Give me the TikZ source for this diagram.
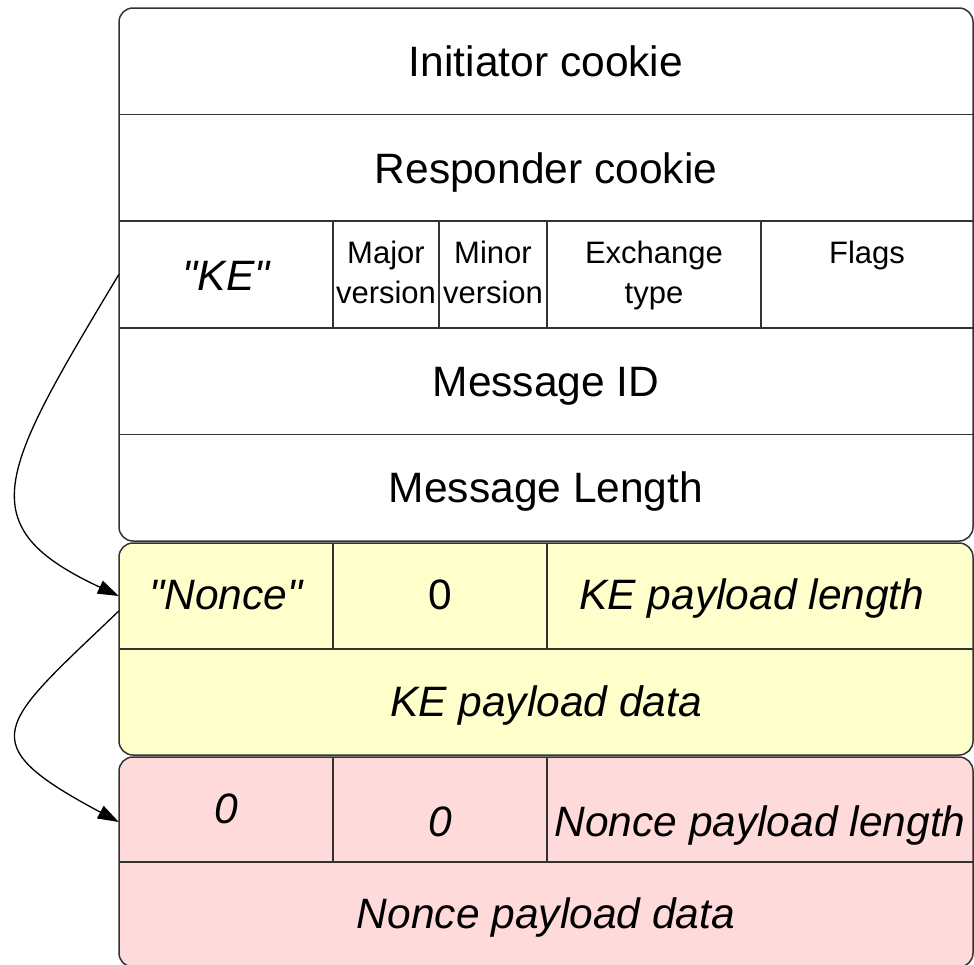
\documentclass[tikz,border=0pt]{standalone}
\usepackage{fontspec}
\newfontfamily\arialike{Liberation Sans}
\usetikzlibrary{arrows.meta,calc}
\definecolor{edge}{HTML}{333333}
\definecolor{kefill}{HTML}{FFFFCC}
\definecolor{noncefill}{HTML}{FFDADA}
\begin{document}
\begin{tikzpicture}[x=1pt,y=-1pt,
  block/.style={draw=edge, line width=1.5pt, rounded corners=14pt},
  gridline/.style={draw=edge, line width=1.5pt},
  cell/.style={inner sep=0pt, draw=none},
  big/.style={font=\arialike\fontsize{42.5}{51}\selectfont, anchor=base, inner sep=0pt},
  bigit/.style={font=\arialike\fontsize{42.5}{51}\selectfont\itshape, anchor=base, inner sep=0pt},
  small/.style={font=\arialike\fontsize{31}{40.5}\selectfont, anchor=base, inner sep=0pt},
  link/.style={draw=black, line width=1.3pt, -{Triangle[length=21pt,width=14pt]}}]
\useasboundingbox (0,0) rectangle (974,964);

% header block
\draw[block, fill=white] (119,8) rectangle (973,541);
\draw[gridline] (119,114.6) -- (973,114.6);
\draw[gridline] (119,221.2) -- (973,221.2);
\draw[gridline] (119,327.8) -- (973,327.8);
\draw[gridline] (119,434.4) -- (973,434.4);
\foreach \xx in {333,439,547,761} \draw[gridline] (\xx,221.2) -- (\xx,327.8);

% KE payload block
\draw[block, fill=kefill] (119,543) rectangle (973,755);
\draw[gridline] (119,649) -- (973,649);
\foreach \xx in {333,547} \draw[gridline] (\xx,543) -- (\xx,649);

% Nonce payload block
\draw[block, fill=noncefill] (119,757) rectangle (973,967);
\draw[gridline] (119,862) -- (973,862);
\foreach \xx in {333,547} \draw[gridline] (\xx,757) -- (\xx,862);

% cells used by the connectors
\node[cell, minimum width=214pt, minimum height=106.6pt] (keCell) at (226,274.5) {};
\node[cell, minimum width=214pt, minimum height=106pt] (nonceCell) at (226,596) {};
\node[cell, minimum width=214pt, minimum height=105pt] (zeroCell) at (226,809.5) {};

% texts
\node[big] (initiator) at (546,76.5) {Initiator cookie};
\node[big] (responder) at (546,183) {Responder cookie};
\node[bigit] (ke) at (226,290) {"KE"};
\node[small] (major) at (386,263) {\begin{tabular}[t]{@{}c@{}}Major\\version\end{tabular}};
\node[small] (minor) at (493,263) {\begin{tabular}[t]{@{}c@{}}Minor\\version\end{tabular}};
\node[small] (exch) at (654,263) {\begin{tabular}[t]{@{}c@{}}Exchange\\type\end{tabular}};
\node[small] (flags) at (867,263) {Flags};
\node[big] (msgid) at (546,396) {Message ID};
\node[big] (msglen) at (546,502.5) {Message Length};

\node[bigit] (nonce) at (226,609.5) {"Nonce"};
\node[big] (zeroY) at (440,609.5) {0};
\node[bigit] (kelen) at (752,609.5) {KE payload length};
\node[bigit] (kedata) at (546,716) {KE payload data};

\node[bigit] (zeroP1) at (226,823) {0};
\node[bigit] (zeroP2) at (440,836) {0};
\node[bigit] (noncelen) at (760,836) {Nonce payload length};
\node[bigit] (noncedata) at (546,928.5) {Nonce payload data};

% connectors
\draw[link] (keCell.west) .. controls +(-120,200) and +(-150,-70) .. (nonceCell.west);
\draw[link] ($(nonceCell.west)+(0,15)$) .. controls +(-120,115) and +(-150,-80) .. ($(zeroCell.west)+(0,12.5)$);
\end{tikzpicture}
\end{document}
